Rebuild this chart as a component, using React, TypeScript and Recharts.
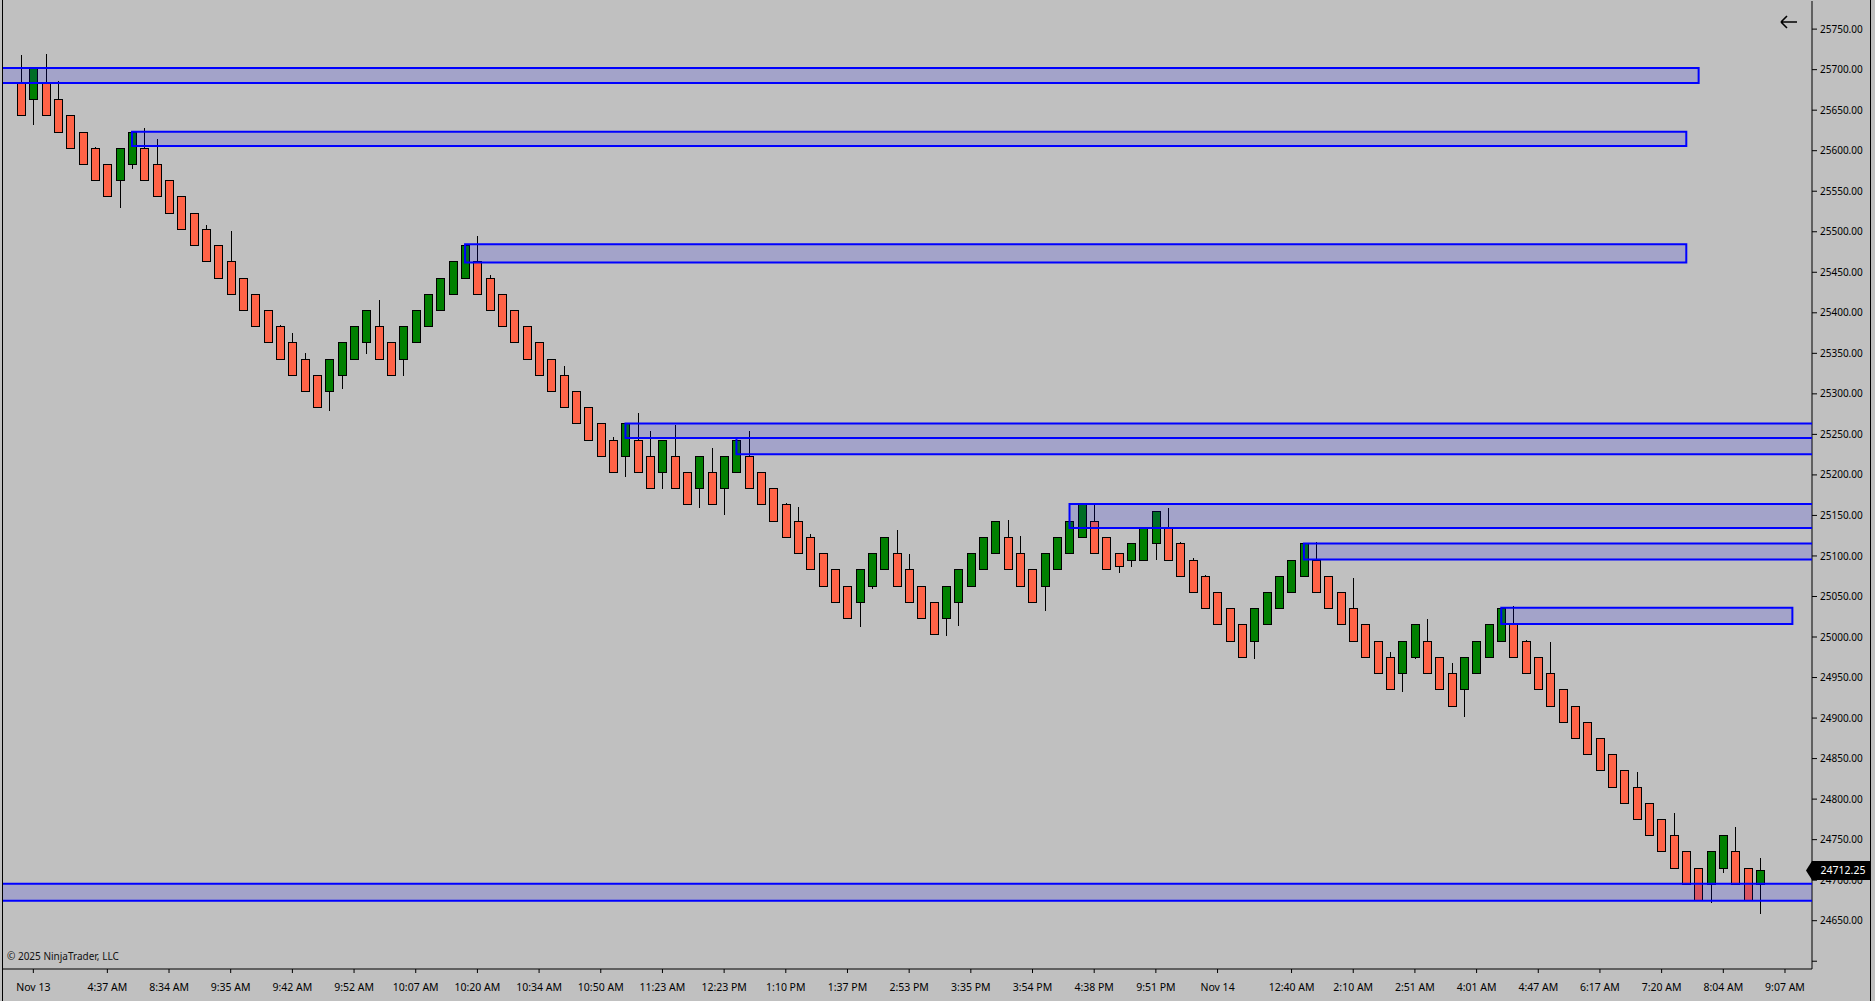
import React from 'react';
import { ComposedChart, Bar, XAxis, YAxis, ReferenceArea, ReferenceLine } from 'recharts';

// bricks (142 bars, left to right)
const opens = [
  25683.5, 25663.5, 25683.5, 25663.5, 25643.5, 25623.5, 25603.5, 25583.5, 25563.5, 25583.5,
  25603.5, 25583.5, 25563.5, 25543.5, 25523.5, 25503.5, 25483.5, 25463.5, 25443.5, 25423.5,
  25403.5, 25383.5, 25363.5, 25343.5, 25323.5, 25303.5, 25323.5, 25343.5, 25363.5, 25383.5,
  25363.5, 25343.5, 25363.5, 25383.5, 25403.5, 25423.5, 25443.5, 25463.5, 25443.5, 25423.5,
  25403.5, 25383.5, 25363.5, 25343.5, 25323.5, 25303.5, 25283.5, 25263.5, 25243.5, 25223.5,
  25243.5, 25223.5, 25203.5, 25223.5, 25203.5, 25183.5, 25203.5, 25183.5, 25203.5, 25223.5,
  25203.5, 25183.5, 25163.5, 25143.5, 25123.5, 25103.5, 25083.5, 25063.5, 25043.5, 25063.5,
  25083.5, 25103.5, 25083.5, 25063.5, 25043.5, 25023.5, 25043.5, 25063.5, 25083.5, 25103.5,
  25123.5, 25103.5, 25083.5, 25063.5, 25083.5, 25103.5, 25123.5, 25143.5, 25123.5, 25103.5,
  25095.5, 25095.5, 25115.5, 25135.5, 25115.5, 25095.5, 25075.5, 25055.5, 25035.5, 25015.5,
  24995.5, 25015.5, 25035.5, 25055.5, 25075.5, 25095.5, 25075.5, 25055.5, 25035.5, 25015.5,
  24995.5, 24975.5, 24955.5, 24975.5, 24995.5, 24975.5, 24955.5, 24935.5, 24955.5, 24975.5,
  24995.5, 25015.5, 24995.5, 24975.5, 24955.5, 24935.5, 24915.5, 24895.5, 24875.5, 24855.5,
  24835.5, 24815.5, 24795.5, 24775.5, 24755.5, 24735.5, 24715.5, 24695.5, 24715.5, 24735.5,
  24715.5, 24695.5,
];
const highs = [
  25718, 25703.5, 25719, 25685.5, 25643.5, 25623.5, 25604.5, 25583.5, 25603.5, 25623.5,
  25627.5, 25614, 25563.5, 25543.5, 25523.5, 25508, 25483.5, 25500.5, 25443.5, 25423.5,
  25403.5, 25384.5, 25374.5, 25350, 25323.5, 25343.5, 25363.5, 25383.5, 25403.5, 25416,
  25363.5, 25383.5, 25403.5, 25423.5, 25443.5, 25463.5, 25483.5, 25495, 25446.5, 25423.5,
  25403.5, 25383.5, 25363.5, 25343.5, 25334.5, 25303.5, 25283.5, 25263.5, 25246.5, 25263.5,
  25276, 25254, 25243.5, 25261, 25203.5, 25223.5, 25233, 25223.5, 25243.5, 25254,
  25203.5, 25183.5, 25165, 25160, 25126.5, 25103.5, 25083.5, 25063.5, 25083.5, 25103.5,
  25123.5, 25131.75, 25102.5, 25063.5, 25043.5, 25063.5, 25083.5, 25103.5, 25123.5, 25143.5,
  25144, 25124.25, 25083.5, 25103.5, 25123.5, 25143.5, 25163.5, 25163.5, 25123.5, 25103.5,
  25115.5, 25135.5, 25155.5, 25159, 25117, 25097, 25076.5, 25055.5, 25035.5, 25015.5,
  25035.5, 25055.5, 25075.5, 25095.5, 25115.5, 25117, 25075.5, 25055.5, 25072.5, 25015.5,
  24995.5, 24981, 24995.5, 25015.5, 25022, 24975.5, 24967.5, 24975.5, 24995.5, 25015.5,
  25035.5, 25038, 24996, 24975.5, 24993.5, 24935.5, 24915.5, 24895.5, 24875.5, 24855.5,
  24835.5, 24833, 24795.5, 24775.5, 24782.5, 24735.5, 24715.5, 24735.5, 24755.5, 24765,
  24715.5, 24727,
];
const lows = [
  25643.5, 25632, 25643.5, 25623.5, 25603.5, 25583.5, 25563.5, 25543.5, 25529.5, 25578,
  25563.5, 25543.5, 25523.5, 25503.5, 25483.5, 25463.5, 25443.5, 25423.5, 25403.5, 25383.5,
  25363.5, 25343.5, 25323.5, 25303.5, 25283.5, 25279, 25306.5, 25343.5, 25349.5, 25343.5,
  25323.5, 25322.5, 25363.5, 25383.5, 25403.5, 25423.5, 25443.5, 25423.5, 25403.5, 25383.5,
  25363.5, 25343.5, 25323.5, 25303.5, 25283.5, 25263.5, 25243.5, 25223.5, 25203.5, 25197,
  25203.5, 25183.5, 25182.25, 25183.5, 25163.5, 25159, 25163.5, 25151, 25203.5, 25183.5,
  25163.5, 25143.5, 25123.5, 25103.5, 25083.5, 25063.5, 25043.5, 25023.5, 25012.75, 25059.5,
  25083.5, 25063.5, 25043.5, 25023.5, 25003.5, 25001.5, 25014, 25063.5, 25083.5, 25103.5,
  25083.5, 25063.5, 25043.5, 25032.5, 25083.5, 25103.5, 25123.5, 25103.5, 25083.5, 25079.5,
  25086.75, 25095.5, 25095.5, 25095.5, 25075.5, 25055.5, 25035.5, 25015.5, 24995.5, 24975.5,
  24973.25, 25015.5, 25035.5, 25055.5, 25075.5, 25055.5, 25035.5, 25015.5, 24995.5, 24975.5,
  24955.5, 24935.5, 24932.5, 24972.5, 24955.5, 24935.5, 24915.5, 24901, 24955.5, 24975.5,
  24995.5, 24975.5, 24955.5, 24935.5, 24915.5, 24895.5, 24875.5, 24855.5, 24835.5, 24815.5,
  24795.5, 24775.5, 24755.5, 24735.5, 24715.5, 24695.5, 24675.5, 24671.5, 24709, 24695.5,
  24675.5, 24658,
];
const closes = [
  25643.5, 25703.5, 25643.5, 25623.5, 25603.5, 25583.5, 25563.5, 25543.5, 25603.5, 25623.5,
  25563.5, 25543.5, 25523.5, 25503.5, 25483.5, 25463.5, 25443.5, 25423.5, 25403.5, 25383.5,
  25363.5, 25343.5, 25323.5, 25303.5, 25283.5, 25343.5, 25363.5, 25383.5, 25403.5, 25343.5,
  25323.5, 25383.5, 25403.5, 25423.5, 25443.5, 25463.5, 25483.5, 25423.5, 25403.5, 25383.5,
  25363.5, 25343.5, 25323.5, 25303.5, 25283.5, 25263.5, 25243.5, 25223.5, 25203.5, 25263.5,
  25203.5, 25183.5, 25243.5, 25183.5, 25163.5, 25223.5, 25163.5, 25223.5, 25243.5, 25183.5,
  25163.5, 25143.5, 25123.5, 25103.5, 25083.5, 25063.5, 25043.5, 25023.5, 25083.5, 25103.5,
  25123.5, 25063.5, 25043.5, 25023.5, 25003.5, 25063.5, 25083.5, 25103.5, 25123.5, 25143.5,
  25083.5, 25063.5, 25043.5, 25103.5, 25123.5, 25143.5, 25163.5, 25103.5, 25083.5, 25087.25,
  25115.5, 25135.5, 25155.5, 25095.5, 25075.5, 25055.5, 25035.5, 25015.5, 24995.5, 24975.5,
  25035.5, 25055.5, 25075.5, 25095.5, 25115.5, 25055.5, 25035.5, 25015.5, 24995.5, 24975.5,
  24955.5, 24935.5, 24995.5, 25015.5, 24955.5, 24935.5, 24915.5, 24975.5, 24995.5, 25015.5,
  25035.5, 24975.5, 24955.5, 24935.5, 24915.5, 24895.5, 24875.5, 24855.5, 24835.5, 24815.5,
  24795.5, 24775.5, 24755.5, 24735.5, 24715.5, 24695.5, 24675.5, 24735.5, 24755.5, 24695.5,
  24675.5, 24712.25,
];

// time axis labels sit under these bar slots
const tickBars = [1, 7, 12, 17, 22, 27, 32, 37, 42, 47, 52, 57, 62, 67, 72, 77, 82, 87, 92, 97, 103, 108, 113, 118, 123, 128, 133, 138, 143];
const tickLabels = [
  'Nov 13', '4:37 AM', '8:34 AM', '9:35 AM', '9:42 AM', '9:52 AM', '10:07 AM', '10:20 AM', '10:34 AM', '10:50 AM',
  '11:23 AM', '12:23 PM', '1:10 PM', '1:37 PM', '2:53 PM', '3:35 PM', '3:54 PM', '4:38 PM', '9:51 PM', 'Nov 14',
  '12:40 AM', '2:10 AM', '2:51 AM', '4:01 AM', '4:47 AM', '6:17 AM', '7:20 AM', '8:04 AM', '9:07 AM',
];

const priceTicks = [
  24600, 24650, 24700, 24750, 24800, 24850, 24900, 24950, 25000, 25050, 25100, 25150,
  25200, 25250, 25300, 25350, 25400, 25450, 25500, 25550, 25600, 25650, 25700, 25750,
];

// supply / demand zones (null = runs off the edge)
const zoneStart = [null, 9, 36, 49, 58, 85, 104, 120, null];
const zoneEnd = [136, 135, 135, null, null, null, null, 143.6, null];
const zoneHigh = [25702, 25623.5, 25484.5, 25263.5, 25245.5, 25164, 25115.5, 25036, 24695.5];
const zoneLow = [25683.5, 25605.75, 25462, 25245.5, 25225.5, 25134.5, 25095.5, 25016, 24674.75];

const lastPrice = 24712.25;

const font = '"Segoe UI", "Noto Sans", "Open Sans", sans-serif';

const data = opens.map((o, i) => ({
  i,
  open: o,
  high: highs[i],
  low: lows[i],
  close: closes[i],
  range: [lows[i], highs[i]],
}));

const Candle = (props: any) => {
  const { x, y, width, height, payload } = props;
  if (x == null || y == null || !payload) return null;
  const { open, close, high, low } = payload;
  const top = Math.min(y, y + height);
  const h = Math.abs(height);
  const span = high - low || 1;
  const py = (p: number) => top + ((high - p) / span) * h;
  const cx = Math.round(x + width / 2);
  const bTop = Math.round(py(Math.max(open, close))) + 0.5;
  const bBot = Math.round(py(Math.min(open, close))) + 0.5;
  const up = close >= open;
  return (
    <g>
      <line x1={cx + 0.5} x2={cx + 0.5} y1={Math.round(top)} y2={Math.round(top + h)} stroke="#000" strokeWidth={1} />
      <rect
        x={cx - 3.5}
        y={bTop}
        width={8}
        height={Math.max(bBot - bTop, 1)}
        fill={up ? '#008000' : '#ff6347'}
        stroke="#000"
        strokeWidth={1}
      />
    </g>
  );
};

const PriceTag = (props: any) => {
  const vb = props.viewBox || {};
  const right = (vb.x ?? 0) + (vb.width ?? 0);
  const y = Math.round(vb.y ?? 0) + 0.5;
  const pts = `${right - 6},${y} ${right},${y - 9.5} ${right + 58},${y - 9.5} ${right + 58},${y + 9.5} ${right},${y + 9.5}`;
  return (
    <g>
      <polygon points={pts} fill="#000" />
      <text x={right + 31} y={y} dy="0.35em" textAnchor="middle" fill="#fff" fontSize={10.5} fontFamily={font}>
        {lastPrice.toFixed(2)}
      </text>
    </g>
  );
};

export default function App() {
  return (
    <div style={{ position: 'fixed', left: 0, top: 0, width: 1875, height: 1001, background: '#c0c0c0', overflow: 'hidden' }}>
      <ComposedChart width={1875} height={1001} data={data} margin={{ top: 1, right: 4, bottom: 4, left: 2 }}>
        <XAxis
          type="number"
          dataKey="i"
          domain={[-1.54, 145.19]}
          allowDataOverflow
          ticks={tickBars}
          interval={0}
          tickFormatter={(v: number) => tickLabels[tickBars.indexOf(v)] ?? ''}
          tick={{ fill: '#000', fontSize: 10.5, fontFamily: font }}
          tickSize={4}
          tickMargin={11}
          axisLine={{ stroke: '#000' }}
          tickLine={{ stroke: '#000' }}
          height={28}
        />
        <YAxis
          orientation="right"
          type="number"
          domain={[24590.4, 25784.7]}
          allowDataOverflow
          ticks={priceTicks}
          interval={0}
          tickFormatter={(v: number) => (v === 24600 ? '' : v.toFixed(2))}
          tick={{ fill: '#000', fontSize: 10, fontFamily: font, textAnchor: 'start' }}
          tickSize={5}
          tickMargin={3}
          axisLine={{ stroke: '#000' }}
          tickLine={{ stroke: '#000' }}
          width={59}
        />
        <Bar dataKey="range" barSize={8} shape={Candle} isAnimationActive={false} />
        {zoneStart.map((s, k) => (
          <ReferenceArea
            key={k}
            x1={s ?? -10}
            x2={zoneEnd[k] ?? 200}
            y1={zoneLow[k]}
            y2={zoneHigh[k]}
            ifOverflow="hidden"
            fill="#0000ff"
            fillOpacity={0.15}
            stroke="#0000ff"
            strokeWidth={2}
            zIndex={700}
          />
        ))}
        <ReferenceLine y={lastPrice} stroke="none" label={(p: any) => <PriceTag {...p} />} />
      </ComposedChart>
      <div style={{ position: 'absolute', left: 2, top: 0, width: 1, height: 1001, background: '#000' }} />
      <div style={{ position: 'absolute', left: 1870, top: 0, width: 1, height: 1001, background: '#000' }} />
      <div style={{ position: 'absolute', left: 7, top: 949, fontSize: 10, fontFamily: font, color: '#111', whiteSpace: 'nowrap' }}>
        © 2025 NinjaTrader, LLC
      </div>
      <svg style={{ position: 'absolute', left: 1778, top: 14 }} width={22} height={16}>
        <path d="M3 8 H19 M3 8 L9 2 M3 8 L9 14" stroke="#000" strokeWidth={1.6} fill="none" />
      </svg>
    </div>
  );
}
